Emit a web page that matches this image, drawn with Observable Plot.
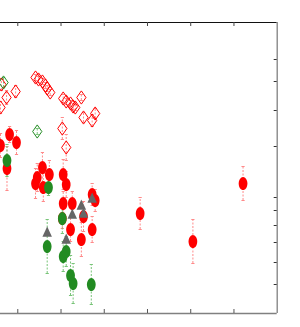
<!DOCTYPE html>
<html><head><meta charset="utf-8">
<script src="https://cdn.jsdelivr.net/npm/d3@7"></script>
<script src="https://cdn.jsdelivr.net/npm/@observablehq/plot@0.6"></script>
<style>body{margin:0;background:#fff}</style>
</head><body><div id="chart"></div>
<script>
// axes
const xTicks = [1, 2, 3, 4, 5, 6];
const yTicksRight = [25.4, 23.2, 20.3, 16.7, 11.6, 10.3, 8.8, 7.1, 5.1, 2.9];
const xDomain = [0.6, 7.0];
const yDomain = [0, 29.1];

// red open diamonds
const rdX = [0.60, 0.74, 0.95, 0.62, 1.41, 1.48, 1.57, 1.64, 1.68, 1.75, 2.05, 2.12, 2.22, 2.28, 2.33, 2.47, 2.52, 2.72, 2.79, 2.03, 2.12];
const rdY = [20.6, 21.6, 22.2, 22.9, 23.6, 23.4, 23.2, 22.8, 22.5, 22.1, 21.5, 21.2, 21.0, 20.7, 20.6, 21.6, 19.6, 19.3, 20.0, 18.5, 16.6];
const rdE = [0.6, 0.7, 0.6, 0.6, 0.3, 0.3, 0.3, 0.3, 0.3, 0.3, 0.4, 0.3, 0.3, 0.3, 0.3, 0.3, 0.5, 0.6, 0.5, 1.1, 1.3];
// green open diamonds
const gdX = [0.67, 1.45];
const gdY = [23.1, 18.2];
const gdE = [0.5, 0.3];
// red filled
const rcX = [0.81, 0.97, 0.60, 0.75, 1.57, 1.73, 1.45, 1.41, 1.59, 2.05, 2.12, 2.05, 2.26, 2.22, 2.47, 2.52, 2.72, 2.79, 2.72, 2.03, 3.83, 5.05, 6.21];
const rcY = [17.9, 17.1, 16.8, 14.5, 14.6, 13.9, 13.6, 13.0, 12.6, 13.9, 12.9, 11.0, 11.0, 8.4, 7.4, 9.7, 11.9, 11.3, 8.4, 9.5, 10.0, 7.2, 13.0];
const rcE = [0.8, 1.2, 1.2, 2.2, 1.5, 1.4, 1.4, 1.5, 1.4, 1.5, 1.3, 1.2, 1.2, 1.2, 1.7, 1.5, 1.1, 1.1, 1.3, 1.0, 1.6, 2.2, 1.7];
// green filled
const gcX = [0.75, 1.71, 2.03, 1.68, 2.05, 2.12, 2.22, 2.28, 2.70];
const gcY = [15.3, 12.6, 9.5, 6.7, 5.7, 6.2, 3.8, 3.0, 2.9];
const gcE = [1.6, 0.8, 1.5, 2.7, 1.5, 1.5, 2.0, 2.0, 2.0];
// gray triangles
const gtX = [1.68, 2.12, 2.26, 2.47, 2.52, 2.72];
const gtY = [8.1, 7.4, 9.9, 10.8, 10.0, 11.5];

const tbl = (xs, ys, es) => xs.map((x, i) => ({x, y: ys[i], e: es ? es[i] : 0}));
const redD = tbl(rdX, rdY, rdE), grnD = tbl(gdX, gdY, gdE), redC = tbl(rcX, rcY, rcE), grnC = tbl(gcX, gcY, gcE), gryT = tbl(gtX, gtY);

const K = 0.5523;
const ellipse = {draw(c, size) {const r = Math.sqrt(size / Math.PI); const rx = r * 0.66, ry = r;
  c.moveTo(rx, 0); c.bezierCurveTo(rx, K*ry, K*rx, ry, 0, ry); c.bezierCurveTo(-K*rx, ry, -rx, K*ry, -rx, 0);
  c.bezierCurveTo(-rx, -K*ry, -K*rx, -ry, 0, -ry); c.bezierCurveTo(K*rx, -ry, rx, -K*ry, rx, 0); c.closePath();}};
const diamond = {draw(c, size) {const r = Math.sqrt(size / Math.PI); c.moveTo(0, -r); c.lineTo(0.7*r, 0); c.lineTo(0, r); c.lineTo(-0.7*r, 0); c.closePath();}};
const tri = {draw(c, size) {const r = Math.sqrt(size / Math.PI); c.moveTo(0, -r*1.05); c.lineTo(0.85*r, r*0.75); c.lineTo(-0.85*r, r*0.75); c.closePath();}};
const cap = {draw(c, size) {const r = Math.sqrt(size / Math.PI); c.moveTo(-r, 0); c.lineTo(r, 0);}};

const errMarks = (data, color) => [
  Plot.ruleX(data, {x: "x", y1: d => d.y - d.e, y2: d => d.y + d.e, stroke: color, strokeWidth: 1, strokeDasharray: "2,1.5"}),
  Plot.dot(data, {x: "x", y: d => d.y - d.e, symbol: cap, r: 1.6, stroke: color, strokeWidth: 1}),
  Plot.dot(data, {x: "x", y: d => d.y + d.e, symbol: cap, r: 1.6, stroke: color, strokeWidth: 1})
];

const plotH = 313 - 22;
const chart = Plot.plot({
  width: 300, height: 327,
  marginLeft: 0, marginRight: 23.3, marginTop: 22, marginBottom: 14,
  x: {domain: xDomain, axis: null},
  y: {domain: yDomain, axis: null},
  marks: [
    Plot.ruleY([yDomain[1]], {stroke: "#111", strokeWidth: 1}),
    Plot.ruleY([yDomain[0]], {stroke: "#808080", strokeWidth: 1.3}),
    Plot.ruleX([xDomain[1]], {stroke: "#808080", strokeWidth: 1.3}),
    Plot.tickX(xTicks, {x: d => d, insetBottom: plotH - 4, stroke: "#444"}),
    Plot.tickX(xTicks, {x: d => d, insetTop: plotH - 4, stroke: "#555"}),
    Plot.tickY(yTicksRight, {y: d => d, insetLeft: 276.7 - 3, stroke: "#333"}),
    ...errMarks(redD, "#ff8a8a"),
    ...errMarks(grnD, "#78c478"),
    ...errMarks(redC, "#ff8a8a"),
    ...errMarks(grnC, "#78c478"),
    Plot.dot(redD, {x: "x", y: "y", symbol: diamond, r: 6.6, stroke: "#ff0000", fill: "none", strokeWidth: 1}),
    Plot.dot(grnD, {x: "x", y: "y", symbol: diamond, r: 6.6, stroke: "#228b22", fill: "none", strokeWidth: 1}),
    Plot.dot(redC, {x: "x", y: "y", symbol: ellipse, r: 6.6, fill: "#ff0000", stroke: "none"}),
    Plot.dot(grnC, {x: "x", y: "y", symbol: ellipse, r: 6.6, fill: "#228b22", stroke: "none"}),
    Plot.dot(gryT, {x: "x", y: "y", symbol: tri, r: 5.6, fill: "#666666", stroke: "none"})
  ]
});
document.getElementById("chart").appendChild(chart);
</script>
</body></html>
